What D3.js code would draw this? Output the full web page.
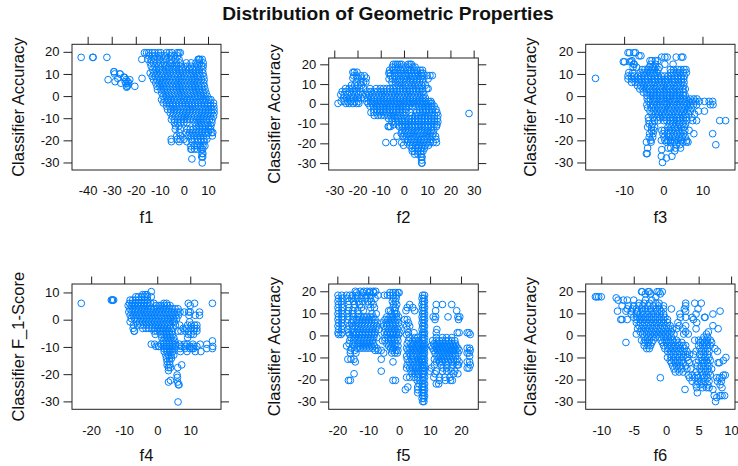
<!DOCTYPE html>
<html><head><meta charset="utf-8">
<script src="https://cdn.jsdelivr.net/npm/d3@7"></script>
<style>html,body{margin:0;padding:0;background:#fff}svg{display:block}text{font-family:"Liberation Sans",Arial,sans-serif;fill:#111}</style>
</head><body><svg id="c" width="738" height="466"></svg>
<script>
// Each row: first number is the y value, the rest are x values read at that y level.
const f1Rows = [
[19.6,-16.4,-15.5,-14.6,-13.2,-12.1,-10.6,-9.6,-7.2,-6.1,-5,-2.8,-2.1,-1.5],
[18.2,-14.6,-13.2,-11.9,-10.4,-9.1,-7.6,-5.6,-4.1,-2.6],
[16.6,-17.5,-15,-13.6,-12.1,-10.2,-8.6,-7.1,-5.2,-3.6,-2,5.9,6.6,7.6,6.2],
[15,-14,-12.7,-11.2,-9.6,-8.1,-6.1,-4.9,-3.1,-1.6,1,3,5,6.5,8],
[13.5,-13.6,-12.1,-10.6,-9.1,-7.6,-6.2,-4.6,-3.1,-1.6,0,1.4,3,4.5,5.9,7.3,8],
[12,-13,-11.6,-10.2,-8.9,-7.4,-6,-4.6,-3.3,-1.9,-0.6,0.8,2.2,3.6,5,6.4,7.8],
[10.4,-14,-12.6,-11.3,-9.8,-8.5,-7.1,-5.8,-4.4,-3.1,-1.7,-0.4,1,2.4,3.7,5.1,6.5,7.9],
[8.9,-13.2,-11.9,-10.6,-9.2,-7.9,-6.6,-5.2,-3.9,-2.6,-1.2,0.1,1.5,2.8,4.1,5.5,6.8,8.2],
[7.4,-12.6,-11.3,-10,-8.6,-7.3,-6,-4.7,-3.4,-2,-0.7,0.7,2,3.3,4.6,6,7.3,8.4],
[5.9,-11.7,-10.4,-9.1,-7.8,-6.5,-5.2,-3.8,-2.5,-1.2,0.2,1.5,2.8,4.1,5.5,6.8,8.2],
[4.4,-11.2,-10,-8.6,-7.3,-6,-4.7,-3.3,-2,-0.7,0.6,2,3.3,4.6,6,7.3,8.5],
[2.9,-11,-9.5,-8.2,-6.9,-5.6,-4.3,-3,-1.6,-0.3,1,2.4,3.7,5,6.4,7.7,8.8],
[1.4,-9.2,-7.8,-6.5,-5.2,-3.9,-2.5,-1.2,0.1,1.5,2.8,4.1,5.4,6.8,8.1,9.2],
[-0.1,-8.7,-7.4,-6.1,-4.8,-3.5,-2.1,-0.8,0.5,1.9,3.2,4.5,5.8,7.1,8.4,9.7],
[-1.6,-9.3,-8,-6.7,-5.4,-4,-2.7,-1.4,-0.1,1.3,2.6,3.9,5.2,6.6,7.9,9.2,10.4,11.2],
[-3.1,-8.6,-7.3,-6,-4.7,-3.4,-2,-0.7,0.6,1.9,3.3,4.6,5.9,7.2,8.5,9.9,11.1,12.3],
[-4.6,-7.2,-5.9,-4.6,-3.3,-1.9,-0.6,0.7,2,3.4,4.7,6,7.3,8.6,9.9,11.1,12.4],
[-6.1,-6.8,-5.5,-4.1,-2.8,-1.5,-0.2,1.2,2.5,3.8,5.1,6.5,7.8,9.1,10.4,11.6,12.5],
[-7.6,-5.7,-4.4,-3.1,-1.8,-0.4,0.9,2.2,3.5,4.9,6.2,7.5,8.8,10.1,11.3,12.5],
[-9.1,-4.8,-3.5,-2.2,-0.9,0.4,1.8,3.1,4.4,5.7,7.1,8.4,9.7,11,12.3],
[-10.6,-5.2,-4,-2.6,-1.3,0,1.4,2.7,4,5.4,6.7,8,9.3,10.6,11.7],
[-12,-4,-2.7,-1.4,0,1.3,4.6,5.9,7.2,8.5,9.8,11.6],
[-13.5,-3.5,-2.1,5,6.3,7.6,8.9,10.2,11.2],
[-15,-3.6,-1.5,1.3,2.6,3.8,5.2,6.5,7.8,9.1,10.4,11.1],
[-16.5,-2,1,2.3,3.6,4.9,6.2,7.5,8.8,10.1,11.5,12],
[-18,-3,-1.5,1.6,2.9,4.2,5.5,6.8,8.1,9.4,11.8],
[-19.5,-5.3,-2.8,-1.6,0,3,4.4,5.7,7,8.3,9.5],
[-20.6,-5.2,-2,1.2,3.4,5.8,7.2,8.4],
[-22.5,2.9,4.3,5.7,6.8,7.9,8.7],
[-24,2.9,3.2,4.4,5.6,7.2,7.8],
[-26,7.5,7.9],[-27.5,7.4,7.8],[-28.4,3.3],[-30.2,7.6],
[17.5,-42.7,-37.9,-37.7,-32],
[11,-29,-29.1],[10,-28.8,-26.5,-26.6],[8.5,-25,-24.7],[8,-27.5,-17.4],[7.4,-31.5,-24,-22.5],[6.5,-28.6,-24.4,-23.2],[5.8,-26.2,-24.1,-23],[5,-23.2],[4.4,-20.4,-23.6],[4,-23.8]
];
const f2Rows = [
[20,-4.6,-3.6,-2.8,-1.8,-1,1.8,2.6,3.2],
[18.6,-5,-3.8,-2.4,-0.8,0.8,2.2,3.8,4.8],
[17,-6.2,-4.6,-3,-1.4,0,1.6,3,4.4,5.6,7,8],
[15.5,-6.5,-6,-4.2,-2.6,-1.2,0.4,1.8,3.2,4.6,6,7.4,8.2],
[14.3,-5.8,-4,-2.4,-0.8,0.8,2.2,3.6,5,6.4,7.8,10,11.2,12.2],
[16,-22,-21.4,-20.2],[14.2,-21.6,-20.5,-18.5,-17],[13,-22,-20,-18.2,-16.2],
[12.6,-6.4,-5,-3.4,-1.8,-0.2,1.2,2.8,4.2,5.6,7,8.2,10.4],
[11,-20.6,-18.6,-17.4,-16.4,-5.2,-3.6,-2,-0.4,1,2.6,4,5.4,6.8,8.2],
[9.4,-22.6,-21.2,-19.8,-18.2,-3.8,-2.4,-0.8,0.6,2,3.4,4.8,6.2,7.6,9.2],
[7.7,-25.2,-23.6,-22.2,-20.6,-19,-17.4,-14.6,-12,-10.2,-8.8,-7.4,-6,-4.6,-3.2,-1.8,-0.4,1,2.4,3.8,5.2,6.6,8,9.8,10.4],
[6.2,-26.6,-25,-23.4,-21.8,-20.4,-18.8,-15.8,-14.2,-12.8,-11.4,-10,-8.6,-7.2,-5.8,-4.4,-3,-1.6,-0.2,1.2,2.6,4,5.4,6.8,8.2],
[4.6,-27.2,-25.8,-24.2,-22.6,-21.2,-19.6,-17.8,-16.4,-15,-13.6,-12.2,-10.8,-9.4,-8,-6.6,-5.2,-3.8,-2.4,-1,0.4,1.8,3.2,4.6,6,7.4,8.6],
[2.9,-26,-24.6,-23,-21.6,-20,-18.4,-17,-15.6,-14.2,-12.8,-11.4,-10,-8.6,-7.2,-5.8,-4.4,-3,-1.6,-0.2,1.2,2.6,4,5.4,6.8,8.2,9.2],
[1.2,-27,-25.6,-24.2,-22.8,-21.2,-19.6,-16,-14.4,-13,-11.6,-10.2,-8.8,-7.4,-6,-4.6,-3.2,-1.8,-0.4,1,2.4,3.8,5.2,6.6,8,9.4,10.6,11.6],
[0.2,-28.4,-25,-23.6,-22,-20.4,-19.4,-15.4,-13.8,-12.4,-11,-9.6,-8.2,-6.8,-5.4,-4,-2.6,-1.2,0.2,1.6,3,4.4,5.8,7.2,8.6,10,11.4,12],
[-1.2,-14.6,-13.2,-11.8,-10.4,-9,-7.6,-6.2,-4.8,-3.4,-2,-0.6,0.8,2.2,3.6,5,6.4,7.8,9.2,10.6,12,13],
[-2.9,-13,-11.6,-10.2,-8.8,-7.4,-6,-4.6,-3.2,-1.8,-0.4,1,6.6,8,9.4,10.8,12.2,13.8],
[-4.4,-14.2,-13,-11.8,-10.4,-9,-7.6,-6.2,-4.8,-3.4,-2,-0.6,0.8,2.6,5.4,6.8,8.2,9.6,11,12.4,14.2],
[-5.9,-12.8,-11.2,-9.8,-8.4,-7,-5.6,-4.2,-2.8,-1.4,0,3.4,4.8,6.2,7.6,9,10.4,11.8,13.2,14.6],
[-7.5,-6.6,-5.2,-3.8,-2.4,-1,0.4,2,3.4,4.8,6.2,7.6,9,10.4,11.8,13.2,14.4],
[-9.1,-5.2,-3.6,-2.2,-0.8,0.6,2,3.4,4.8,6.2,7.6,9,10.4,11.8,13.2,14.6],
[-10.6,-4.4,-2.4,-1,0.4,1.8,3.2,4.6,6,7.4,8.8,10.2,11.6,13,14.2],
[-11.5,-6.8,-6.4,-5.8,-2,-0.6,0.8,2.2,3.6,5,6.4,7.8,9.2,10.6,12,14],
[-13.4,-0.8,0.6,2,3.4,4.8,6.2,7.6,9,10.4,11.8,12.8],
[-15,-1.2,0.2,1.6,3,4.4,5.8,7.2,8.6,10,11.4,12.6],
[-16.4,-3,-0.4,1,2.4,3.8,5.2,6.6,8,9.4,10.8,12.2,13.6],
[-18,0.4,1.8,3.2,4.6,6,7.4,8.8,10.2,11.6,13.8],
[-19.6,-7.8,-4.5,-1,1.4,2.8,4.2,5.6,7,8.4,9.8,11.2,12.6,14],
[-21,-0.2,2.4,3.6,5,6.4,7.8,9.2,10.6],
[-22.5,3.4,5,6.2,7.6,8.8],
[-24,3.6,4.4,6,7.2,8.2],[-25.5,4.6,6,7.4],[-27,7.4,7.8],[-28.5,7.6],[-30,7.6,7.8],
[-4.9,28]
];
const f3Rows = [
[19.6,-9,-8.6,-7.5,-7.1],[18.2,-6.2,-5.7],[17.6,-0.4,0.4,1,3.3,4.6,5],[16,-3.4,-2.9,-2,-1.4,-8],
[15.5,-10.2,-9.9,-8.6,-8.1],[14.4,-7.6,-7.4,-3.2,-2,0.4,2.5],[13,-7.7,-6.8,-3.6,-2.7,-1.9,-1],
[12,-5.4,-4.7,-3.9,-3,-2.2,-1.3,1.8,2.6,3.7,4.5,5.3,5.8],
[10.6,-8.8,-7.8,-5.9,-5,-4.2,-3.3,-2.4,-1.6,1.9,2.6,3.5,4.3,5.1,5.9],
[9.1,-9,-8.2,-7.4,-6.5,-5.6,-4.8,-3.9,-3.1,-2.2,-1.4,-0.5,0.3,1.2,2,2.9,3.7,4.6,5.4],
[7.7,-9,-8.1,-7.3,-6.4,-5.6,-4.7,-3.9,-3,-2.2,-1.3,-0.5,0.4,1.2,2.1,2.9,3.8,4.6,5.2],
[6.2,-8.1,-7.2,-6.3,-5.5,-4.6,-3.8,-2.9,-2.1,-1.2,-0.4,0.5,1.3,2.2,3,3.9,4.7,5.3],
[4.7,-6.6,-5.8,-5,-4.1,-3.3,-2.4,-1.6,-0.7,0.1,1,1.8,2.7,3.5,4.4,5.2],
[3.2,-6,-5.2,-4.3,-3.5,-2.6,-1.8,-0.9,-0.1,0.8,1.6,2.5,3.3,4.2,5,5.6],
[1.7,-5.1,-4.2,-3.3,-2.5,-1.6,-0.8,0.1,0.9,1.8,2.6,3.5,4.3,5.2],
[0.2,-4.2,-3.4,-2.5,-1.7,-0.8,0,0.9,1.7,2.6,3.4,4.3,5.1,5.6],
[-1.3,-4.1,-3.3,-2.4,-1.6,-0.7,0.1,1,1.8,2.7,3.5,4.4,5.2,6,6.9,7.8,8.6],
[-2.4,-3.7,-2.8,-2,-1.1,-0.3,0.6,1.4,2.3,3.1,4,4.8,5.7,6.5,7.4,8.2,9.2,10.5,11.7,12.6],
[-3.9,-4.2,-3.3,-2.5,-1.6,-0.8,0.1,0.9,1.8,2.6,3.5,4.3,5.2,6,6.9,7.7,8.5,12,12.7],
[-5.3,-4,-3,-2.1,-1.3,-0.4,0.4,1.3,2.1,3,3.8,4.7,5.5,6.4,7.2],
[-6.8,-3.4,-2.4,-1.6,-0.7,0.1,1,1.8,2.7,3.5,4.4,5.2,6.1,6.9,9,10.5],
[-8.2,-2.9,-2,-1.2,-0.3,0.5,1.4,2.2,3.1,3.9,4.8,5.6,6.5,8],
[-9.7,-3.8,-2.6,-1.7,-0.9,0,0.8,1.7,2.5,3.4,4.2,5.1,5.9,7.3],
[-11.1,-3.7,-2.2,-1.3,0.1,0.9,1.8,2.6,3.5,4.3,5.2,6,7.5,8.5,14.4,15.9],
[-12.6,-3.6,-2.8,1.6,2.4,3.3,4.1,5,5.7],
[-14,-4,-3,-2.2,1.2,2,2.9,3.7,4.6,5.4],
[-15.5,-3,-2.4,-0.4,0.3,1.4,2.2,3.1,3.9,4.8,5.5,6.6],
[-17,-3.5,-2.6,-0.1,1,1.8,2.7,3.5,4.4,5.2,7.8,12.6],
[-18.6,-3.6,-2.7,0.2,1.4,2.3,3.1,4,4.8,5.6],
[-20,-3.2,-0.5,0.4,1.2,2,2.9,3.8,4.6,6],
[-20.8,-4.3,-3.1,0.8,1.8,2.9,5,5.9,6.3],
[-22,13.4,4.2,3.4],[-23.5,-4,1.2,1.9,4.4,3.1],[-24.2,-0.4],[-24.8,2.9],[-26,-4.3,-4.1],[-27.2,-0.5,2.2],[-28,0.8],[-30,-0.2],
[8,-17.3]
];
const f4Rows = [
[10.3,-1.8],[9.2,-4.4,-3.7,-3.1],[8.4,-6.5,-5.7,-4.8,-3.9,-3,-1.8],[7.2,-8.2,-7.4,-6.5,-5.6,-4.7,-3.8,-2.9,-13.9,-13.6,-13.2,-13.5],
[6,-23,-8.4,-7.5,-6.6,-5.7,-4.8,-3.9,-3,-2,-1,2,2.8,9.4,11.3,16.7],
[5.2,-8.8,-7.9,-7,-6,-5.1,-4.2,-3.3,-2.4,-0.3,0.5,1.2,2.2,3.1,3.9,10],
[4,-8.3,-7.4,-6.5,-5.6,-4.6,-3.7,-2.8,-1.9,-1,0,0.9,1.8,2.7,3.6,4.5,5.4,6.3],
[2.8,-8.6,-7.7,-6.8,-5.9,-5,-4,-3.1,-2.2,-1.3,-0.4,0.5,1.4,2.4,3.3,4.2,5.1,6,6.9,8.2,9.5,10,12.8],
[1.6,-8.2,-7.3,-6.4,-5.5,-4.6,-3.6,-2.7,-1.8,-0.9,0,0.9,1.9,2.8,3.7,4.6,5.5,6.4,9.6,11.5,12.8],
[0.4,-7.8,-6.9,-6,-5,-4.1,-3.2,-2.3,-1.4,-0.5,0.4,1.4,2.3,3.2,4.1,5,5.9],
[-0.8,-8.2,-6.3,-5.4,-4.5,-3.6,-2.7,-1.8,-0.9,0,0.9,1.8,2.8,3.7,4.6,5.2,9.8],
[-2,-7.2,-6,-5,-4.1,-3.2,-2.3,-1.4,-0.4,0.5,1.4,2.3,3.2,4.1,5.5,6.8,9.2,10.3,11.3,12],
[-3.2,-7.3,-4.4,-3.4,-2.5,-1.6,-0.7,0.2,1.1,2,3,3.9,4.8,7.8,8.8,10.2,11.3,12],
[-4.2,-7,-6.9,-1,-0.1,0.8,1.7,2.6,3.5,4.4,6.3,7.2,8.4,9.6,11,12],
[-5.4,-0.6,1.1,2,2.9,3.8,4.6,9.4,10.2,11],
[-6.6,1.4,2.3,3.2,4.1,5,9.2],[-7.8,1.8,2.7,3.6,4.5,5.3,16.7],
[-9,-1.8,-0.8,1.1,2,2.9,3.8,4.7,5.6,6.7,8.2,9,10.8,13,15],
[-9.8,-0.4,0.4,0.5,1.9,2.8,3.7,4.6,5.5,7.2,8.6,9.8,11,12,16.8],
[-10.6,2,2.8,3.6,4.5,5.3,6.9,8.4,9.9,10.6,11,15,16.7],
[-11.7,2.1,3,3.9,4.7,7,9,11.5,13.2],[-13,2.6,3.4,4.2,5],[-14.2,2.8,3.7,4.3],[-15.4,3,3.8],[-16.6,3,3.8,7.4],[-17.6,3.4,4,6.2],
[-18.7,3.4],[-20.3,6],[-21.2,6.1],[-22.3,4],[-22.9,3.4,6.2],[-23.9,6.4,6.6],[-30.2,6.3]
];
const f5Rows = [
[20,-14.2,-12.6,-11.4,-10.4,-9.4,-8.4,-7.6],
[19.4,-13.8,-11.8,-9.6,-8.2,-3,-2,-1.2,-0.4,0],
[18.2,-19.8,-18.6,-17,-16,-15,-13.4,-12,-10.4,-9,-6.8,-4.8,-3.8,-3,-2,-0.8,7.6,8.2],
[16.8,-19.6,-18.4,-16.8,-15.4,-14,-12.4,-11,-9.4,-7.8,-1.8,-1,7.4,8],
[15.4,-19.8,-18.8,-16.2,-14.8,-13.2,-11.8,-10.2,-9,-2.2,-1.2,7.6,8.2],
[14,-19.6,-18.6,-16.4,-14.4,-12.8,-9.8,-8.4,-1.8,-0.8,3.4,7.4,8,12,14,17],
[12.6,-19.8,-18.4,-16.2,-14.6,-12.2,-9.2,-8,-2,-1.2,2.6,4.4,7.6,8.2],
[11.2,-19.6,-18.6,-16.4,-15,-13.4,-11.6,-3.4,-2.8,-1.4,2.2,5,7.4,8,11.8,18.6],
[9.8,-19.8,-18.4,-16.8,-15.2,-13,-8.8,-7.4,-2.4,-1.4,-0.8,7.6,8.2],
[8.4,-19.6,-18.6,-16.2,-14.8,-13.4,-12.4,-11.4,-10.4,-9.4,-8.4,-4,-3,-2,-1,-0.2,7.4,8,11,11.8,15.8,19,19.6],
[7.2,-19.8,-18.4,-16.6,-15,-13.8,-12.8,-11.8,-10.8,-9.8,-8.8,-7.8,-4.6,-3.6,-2.6,-1.6,-0.6,1.8,2.6,7.6,8.2,11.6,19.2],
[5.7,-19.6,-18.6,-16.8,-15.4,-14,-13,-12,-11,-10,-9,-8,-7,-5.6,-4.2,-3.2,-2.2,-1.2,-0.2,3,7.4,8],
[4.2,-19.8,-18.4,-16.2,-15,-14.2,-13.2,-12.2,-11.2,-10.2,-9.2,-8.2,-7.2,-5,-4,-3,-2,-1,0,2.4,3.4,7.6,8.2],
[2.7,-19.6,-18.6,-16.6,-15.2,-13.6,-12.6,-11.6,-10.6,-9.6,-8.6,-7.6,-6.6,-4.4,-3.4,-2.4,-1.4,-0.4,2.6,7.4,8,12.2],
[1.2,-19.8,-18.4,-16.4,-14.8,-13.8,-12.8,-11.8,-10.8,-9.8,-8.8,-7.8,-4.8,-3.8,-2.8,-1.8,-0.8,0.2,3,4.8,7.6,8.2,12,18.8,19.4,22,22.6],
[0.4,-19.6,-18.8,-16,-15,-14,-13,-12,-11,-10,-9,-8,-4,-3,-2,-1,-0.2,2.4,7.4,8,23],
[-1,-15.6,-14.4,-13.2,-12.2,-11.2,-10.2,-9.2,-8.2,-7.2,-4.6,-3.6,-2.6,-1.6,-0.6,3.4,5,6,7.6,8.2,12,14,15.4,17],
[-2.4,-16,-14.8,-13.6,-12.6,-11.6,-10.6,-9.6,-8.6,-5.4,-4.6,-3.4,-2.4,-1.4,-0.4,3,4.4,5.4,6.4,7.4,8,10.8,12,13,14,15,16,17,18],
[-3.8,-16.2,-15,-13.4,-12.4,-11.4,-10.4,-9.4,-8.4,-4,-3,-2,-1,2.6,3.8,4.8,5.8,6.8,7.6,8.2,11.2,12.2,13.2,14.2,15.2,16.2,17.2,18.2],
[-4.8,-17,-14.6,-13,-12,-11,-10,-9,-8,-3.4,-2.4,-1.4,-0.4,4.2,5.2,6.2,7.4,8,10.4,11.6,12.6,13.6,14.6,15.6,16.6,17.6,18.4],
[-5.8,-15.4,-13.6,-12.6,-11.6,-10.6,-9.6,-8.6,-7.2,-2.8,-1.8,2.4,3.4,4.6,5.6,6.6,7.6,8.2,10.8,12,13,14,15,16,17,18,19,22,22.8],
[-6.8,-15.8,-14.4,-7.8,-6.8,-5.8,-2.2,-1,-0.4,2.8,3.8,5,6,7,7.4,8,11.2,12.4,13.4,14.4,15.4,16.4,17.4,18.4,19.4,23],
[-8,-15.8,-14,-5,-2.4,-1.4,-0.6,3.2,4.2,5.4,6.4,7.6,8.2,11.6,12.8,13.8,14.8,15.8,16.8,17.8,19,22,22.6],
[-9.4,2.4,3.6,4.6,5.8,6.8,7.4,8,12.2,13.2,14.2,15.2,16.2,17.2,18.2,22.8],
[-10.8,-16.6,-15.6,-14.6,-5.8,2.6,4,5,6.2,7.2,7.6,8.2,11.4,12.6,13.6,14.6,15.6,16.6,17.6,18.8],
[-12,-14.2,-2,3.2,4.4,5.4,6.6,7.4,8,12,13,14,15,16,17,18.4,19.4,22,22.8],
[-13.4,2.6,3.8,4.8,6,7,7.6,8.2,11.4,13.6,15.4,17.4,18.8,19.2,23],
[-14.8,2.4,3.4,4.4,5.4,6.4,7.4,8,10.4,14.2,15.4,16.8,22,22.6],
[-16.2,-5.8,3.8,4.8,5.8,6.8,7.6,8.2,9.8,12,14,15.4,16.8,18],
[-17.4,-14.6,4.2,5.2,6.2,7.4,8,11.6,17.6,19],
[-19,2.4,3.4,4.8,6,7.6,8.2,11.2,13,14.8,16.4],
[-20.4,-16.4,-15.8,-2,-1.2,5.8,6.8,7.4,8,13,15,16.6,17.2],
[-22,6.4,7.6,8.2,12,12.8],[-23.4,2.8,6,7.4,8],[-24.6,2,6,7.6,8.2],[-26,6,7.4,8],[-27.4,7.6,8.2],[-28.6,7.4,8],[-30,7.6,8]
];
const f6Rows = [
[19.8,-3.8,-3.7,-2.8,-2.6,-1.4,-1.1,-0.6],[18.8,-3.2,-2.4,-0.9],[17.5,-10.9,-10.7,-10.4,-10,-1.6],[17,-7.7],
[16,-7.4,-6.6,-6,-5,-3.2,-2.2],[14.6,-4.2,-3.4,-2.6,-1.6,-1.1,3,4.4,5.4],[13.4,-6.8,-5.8,-5,-4.2,-3.6,-2.8,-2,-1.2,-0.4,3],
[12,-6,-5.2,-4.6,-3.8,-3.2,-2.4,-1.6,-1,-0.4,0.8,2.8,4.9],[11,-7.5,-6.2,-5.4,-4.4,-3.6,-2.8,-2.2,-1.4,-0.8,3,8.3],
[9.7,-5.4,-4.6,-4,-3.4,-2.8,-2.2,-1.6,-1,-0.4,2.1,4.6,7.2],[8.2,-5,-4.4,-3.8,-3.2,-2.6,-2,-1.4,-0.8,-0.2,2.2,3,4,5.9,6],
[7.2,-7,-6.8,-6,-4.6,-4,-3.4,-2.8,-2.2,-1.6,-1,-0.4,0.2,4.2],[5.8,-4.6,-4,-3.4,-2.8,-2.2,-1.6,-1,-0.4,0.2,1.8,4.7],
[4.4,-4.2,-3.6,-3,-2.4,-1.8,-1.2,-0.6,0,0.6,2,3,7.2],[3,-4.4,-3.8,-3.2,-2.6,-2,-1.4,-0.8,-0.2,0.4,1,1.6,2.6,4.6,8],
[1.6,-4,-3.4,-2.8,-2.2,-1.6,-1,-0.4,0.2,0.8,3,6.5],[0.6,-4.6,-3.6,-3,-2.4,-1.8,-1.2,-0.6,0,0.6,1.2,2.7,3.4,6.2],
[-0.8,-3.4,-2.8,-2.2,-1.6,-1,-0.4,0.2,0.8,5.8,6.4],[-2.2,-3.8,-3.2,-2.6,-2,-0.8,-0.2,0.4,1,1.6,4.4,5,5.6,6.2,6.8],
[-3.2,-6.2,-3.4,-2.8,-2.2,-0.6,0,0.6,1.2,1.8,2.4,5.2,5.8,6.4,7],[-4.6,-3.4,-2.8,-2.4,-0.4,0.2,0.8,1.4,2,2.6,3,5,5.6,6.2,6.8],
[-6,-3,-2.6,-0.2,0.4,1,1.6,2.2,2.8,5.2,5.8,6.4,7.5],[-7.2,0.2,0.8,1.4,2,2.6,3.2,4.6,5.4,6,6.6,7.9],
[-8.6,0.6,1.2,1.8,2.4,3,3.6,4.2,5.2,5.8,6.4],[-10,0.2,0.8,1.4,2,2.6,3.2,5.4,6,6.6,9.2],
[-11.4,0.6,1.2,1.8,2.4,3.4,5,5.6,6.2,6.8,8.8],[-12.4,0.8,1.4,2,2.6,3.6,4.6,5.8,6.4,8,8.2],
[-13.8,1,1.6,2.2,3,4.8,5.4,6,6.6],[-15.2,1.2,1.8,2.4,3.2,3.8,5.2,5.8,6.4,7],[-16.6,1.4,2,2.6,4.6,5.4,6,6.6],
[-18,3.4,4,4.8,5.6,6.2,6.8,8.8,9.1],[-19.2,-0.9,3.6,4.4,5,5.8,6.4,7.8,8.2,8.6],[-20.8,4,4.8,5.4,6,6.6,8.5,7.9],
[-22.4,4.6,5.2,5.8,6.4,8.3],[-23.7,4.7,5.6,6.2,6.6,8.6],[-24.5,2.9,7.2],[-26,4.8],[-27.3,7.4,8.3,8.6,9],[-28.2,7.8],[-30,7.6]
];
const xTicks = [[-40,-30,-20,-10,0,10],[-30,-20,-10,0,10,20,30],[-10,0,10],[-20,-10,0,10],[-20,-10,0,10,20],[-10,-5,0,5,10]];
const yTicks = [[-30,-20,-10,0,10,20],[-30,-20,-10,0,10,20],[-30,-20,-10,0,10,20],[-30,-20,-10,0,10],[-30,-20,-10,0,10,20],[-30,-20,-10,0,10,20]];
const featureNames = ["f1","f2","f3","f4","f5","f6"];
const yLabels = ["Classifier Accuracy","Classifier Accuracy","Classifier Accuracy","Classifier F_1-Score","Classifier Accuracy","Classifier Accuracy"];
const title = "Distribution of Geometric Properties";
const rows = [f1Rows,f2Rows,f3Rows,f4Rows,f5Rows,f6Rows];

// layout (separate from the data)
const boxes = [[72,44.3,221,170],[328.7,58,478.3,170],[585.7,44.3,735,170],[72,284,221,409.3],[328.7,284,478.3,409.3],[585.7,284,735,409.3]];
const xDomains = [[-46.5,15.4],[-32.4,32],[-19.8,18.3],[-25.8,19.3],[-22.8,25.6],[-12.4,10.6]];
const yDomains = [[-33.4,23.4],[-33.5,23.2],[-33.4,23.4],[-32.9,13.1],[-33.5,23.3],[-33.5,23.3]];
const xLabelY = [217,217,217,455,455,455];
const yLabelX = [18,274,530,18,274,530];
const colour = "#0080ff";

const svg = d3.select("#c");
svg.append("text").attr("x",388).attr("y",20).attr("text-anchor","middle")
  .attr("font-weight","bold").attr("font-size",19.2).text(title);

rows.forEach((r,i)=>{
  const [x0,y0,x1,y1] = boxes[i];
  const x = d3.scaleLinear().domain(xDomains[i]).range([x0,x1]);
  const y = d3.scaleLinear().domain(yDomains[i]).range([y1,y0]);
  const g = svg.append("g");
  const pts = r.flatMap(row=>row.slice(1).map(v=>[v,row[0]]));
  g.selectAll("circle").data(pts).join("circle")
    .attr("cx",d=>x(d[0])).attr("cy",d=>y(d[1])).attr("r",3.35)
    .attr("fill","none").attr("stroke",colour).attr("stroke-width",1);
  g.append("rect").attr("x",x0).attr("y",y0).attr("width",x1-x0).attr("height",y1-y0)
    .attr("fill","none").attr("stroke","#222").attr("stroke-width",1);
  const style = a=>{a.select(".domain").remove();a.selectAll("line").attr("stroke","#222");a.selectAll("text").attr("font-size",13).attr("font-family",'"Liberation Sans",Arial,sans-serif').attr("fill","#111");};
  const lab = d=>String(d);
  g.append("g").attr("transform",`translate(${x0},0)`).call(d3.axisLeft(y).tickValues(yTicks[i]).tickSize(8.5).tickPadding(4).tickFormat(lab)).call(style);
  g.append("g").attr("transform",`translate(${x1},0)`).call(d3.axisRight(y).tickValues(yTicks[i]).tickSize(8).tickFormat("")).call(style);
  g.append("g").attr("transform",`translate(0,${y0})`).call(d3.axisTop(x).tickValues(xTicks[i]).tickSize(7.5).tickFormat("")).call(style);
  g.append("g").attr("transform",`translate(0,${y1})`).call(d3.axisBottom(x).tickValues(xTicks[i]).tickSize(0).tickPadding(16).tickFormat(lab)).call(style);
  g.append("text").attr("x",(x0+x1)/2).attr("y",xLabelY[i]+5.5).attr("text-anchor","middle").attr("font-size",16.5).text(featureNames[i]);
  g.append("text").attr("transform",`translate(${yLabelX[i]+5.5},${(y0+y1)/2}) rotate(-90)`).attr("text-anchor","middle").attr("font-size",16.5).text(yLabels[i]);
});
</script></body></html>
